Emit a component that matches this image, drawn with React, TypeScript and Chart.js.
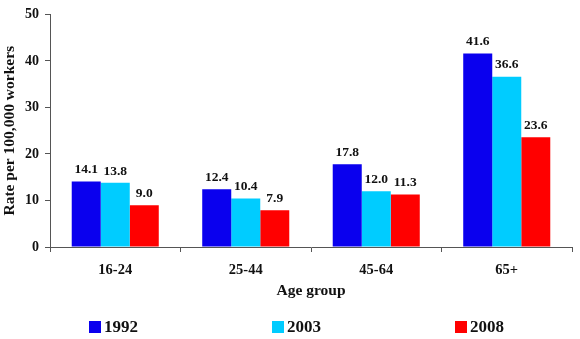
import React, { useEffect, useRef } from "react";
import { Chart, registerables } from "chart.js";

Chart.register(...registerables);

const categories = ["16-24", "25-44", "45-64", "65+"];
const series1992 = [14.1, 12.4, 17.8, 41.6];
const series2003 = [13.8, 10.4, 12.0, 36.6];
const series2008 = [9.0, 7.9, 11.3, 23.6];
const seriesNames = ["1992", "2003", "2008"];
const seriesColors = ["#0A00EE", "#00CCFF", "#FF0000"];
const yTicks = [0, 10, 20, 30, 40, 50];

const SERIF = "'Liberation Serif', 'Times New Roman', serif";

const labelPlugin = {
  id: "valueLabels",
  afterDatasetsDraw(chart: any) {
    const ctx = chart.ctx;
    ctx.save();
    ctx.font = `bold 13.5px ${SERIF}`;
    ctx.fillStyle = "#111";
    ctx.textAlign = "center";
    ctx.textBaseline = "bottom";
    chart.data.datasets.forEach((ds: any, i: number) => {
      const meta = chart.getDatasetMeta(i);
      meta.data.forEach((el: any, j: number) => {
        ctx.fillText(Number(ds.data[j]).toFixed(1), el.x, el.y - 5);
      });
    });
    ctx.restore();
  },
};

const legendPlugin = {
  id: "customLegend",
  afterDraw(chart: any) {
    const ctx = chart.ctx;
    ctx.save();
    ctx.font = `bold 17px ${SERIF}`;
    ctx.textBaseline = "middle";
    ctx.textAlign = "left";
    const startX = 89;
    const spacing = 183;
    const cy = 327;
    chart.data.datasets.forEach((ds: any, i: number) => {
      const x = startX + i * spacing;
      ctx.fillStyle = ds.backgroundColor;
      ctx.fillRect(x, cy - 6, 12, 12);
      ctx.fillStyle = "#111";
      ctx.fillText(ds.label, x + 15, cy + 1);
    });
    ctx.restore();
  },
};

export default function App() {
  const ref = useRef<HTMLCanvasElement>(null);
  useEffect(() => {
    document.body.style.margin = "0";
    const canvas = ref.current!;
    const chart = new Chart(canvas, {
      type: "bar",
      data: {
        labels: categories,
        datasets: [series1992, series2003, series2008].map((d, i) => ({
          label: seriesNames[i],
          data: d,
          backgroundColor: seriesColors[i],
          borderWidth: 0,
          categoryPercentage: 0.667,
          barPercentage: 1.0,
        })),
      },
      options: {
        animation: false,
        responsive: false,
        maintainAspectRatio: false,
        layout: { padding: { left: 0, right: 8, top: 14, bottom: 35 } },
        plugins: {
          legend: { display: false },
          tooltip: { enabled: false },
        },
        scales: {
          x: {
            afterFit: (s: any) => {
              s.height = 57;
            },
            grid: {
              drawOnChartArea: false,
              drawTicks: true,
              tickLength: 5,
              color: "#555",
              offset: true,
            },
            border: { display: true, color: "#555", width: 1 },
            ticks: {
              color: "#111",
              padding: 10,
              font: { family: SERIF, size: 14.5, weight: "bold" },
            },
            title: {
              display: true,
              text: "Age group",
              color: "#111",
              padding: { top: 4, bottom: 4 },
              font: { family: SERIF, size: 15.5, weight: "bold" },
            },
          },
          y: {
            min: 0,
            max: 50,
            afterFit: (s: any) => {
              s.width = 50;
            },
            afterBuildTicks: (s: any) => {
              s.ticks = yTicks.map((v) => ({ value: v }));
            },
            grid: {
              drawOnChartArea: false,
              drawTicks: true,
              tickLength: 5,
              color: "#555",
            },
            border: { display: true, color: "#555", width: 1 },
            ticks: {
              color: "#111",
              padding: 6,
              font: { family: SERIF, size: 14, weight: "bold" },
            },
            title: {
              display: true,
              text: "Rate per 100,000 workers",
              color: "#111",
              padding: { top: 1, bottom: 4 },
              font: { family: SERIF, size: 15.5, weight: "bold" },
            },
          },
        },
      },
      plugins: [labelPlugin, legendPlugin],
    } as any);
    return () => chart.destroy();
  }, []);
  return <canvas ref={ref} width={580} height={339} style={{ display: "block" }} />;
}
